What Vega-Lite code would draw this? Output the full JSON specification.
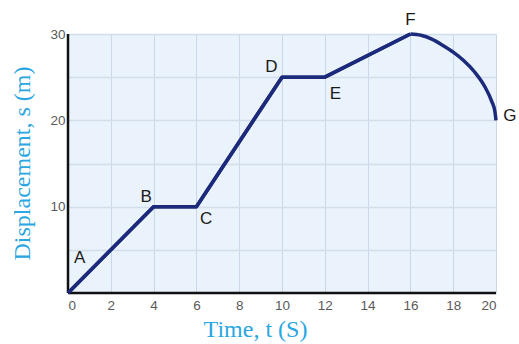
{
  "$schema": "https://vega.github.io/schema/vega-lite/v6.json",
  "width": 428,
  "height": 259,
  "autosize": "none",
  "padding": {"left": 68, "top": 34, "right": 23, "bottom": 51},
  "background": "white",
  "config": {
    "view": {"fill": "#eaf2fb", "stroke": null},
    "axis": {"domain": false}
  },
  "datasets": {
    "path": [
      {"t": 0, "s": 0},
      {"t": 4, "s": 10},
      {"t": 6, "s": 10},
      {"t": 10, "s": 25},
      {"t": 12, "s": 25},
      {"t": 16, "s": 30}
    ],
    "curve": [
      {"t": 16, "s": 30},
      {"t": 16.5, "s": 29.85},
      {"t": 17, "s": 29.4},
      {"t": 17.5, "s": 28.7},
      {"t": 18, "s": 27.9},
      {"t": 18.5, "s": 26.9},
      {"t": 19, "s": 25.6},
      {"t": 19.5, "s": 23.8},
      {"t": 19.8, "s": 22.2},
      {"t": 19.95, "s": 21},
      {"t": 20, "s": 20}
    ],
    "labels": [
      {"t": 0.55, "s": 4, "name": "A"},
      {"t": 3.65, "s": 11.1, "name": "B"},
      {"t": 6.45, "s": 8.6, "name": "C"},
      {"t": 9.5, "s": 26.2, "name": "D"},
      {"t": 12.5, "s": 23.1, "name": "E"},
      {"t": 16, "s": 31.6, "name": "F"},
      {"t": 20.65, "s": 20.5, "name": "G"}
    ]
  },
  "layer": [
    {
      "data": {"name": "path"},
      "mark": {"type": "line", "color": "#1c2a7c", "strokeWidth": 3.5, "strokeJoin": "round", "clip": false},
      "encoding": {
        "x": {
          "field": "t", "type": "quantitative",
          "scale": {"domain": [0, 20], "nice": false},
          "axis": {
            "values": [0, 2, 4, 6, 8, 10, 12, 14, 16, 18, 20],
            "title": "Time, t (S)",
            "titleFont": "Liberation Serif",
            "titleFontSize": 24,
            "titleFontWeight": "normal",
            "titleColor": "#2aa6e0",
            "titleX": 187,
            "titleY": 36,
            "titleAnchor": null,
            "titleAlign": "center",
            "titleBaseline": "middle",
            "labelFont": "Liberation Sans",
            "labelFontSize": 13.5,
            "labelColor": "#5a5a5a",
            "labelPadding": 5,
            "ticks": false,
            "grid": true,
            "gridColor": "#c9d7e8",
            "gridWidth": 1
          }
        },
        "y": {
          "field": "s", "type": "quantitative",
          "scale": {"domain": [0, 30], "nice": false},
          "axis": {
            "values": [0, 5, 10, 15, 20, 25, 30],
            "labelExpr": "datum.value % 10 == 0 && datum.value > 0 ? datum.label : ''",
            "title": "Displacement, s (m)",
            "titleFont": "Liberation Serif",
            "titleFontSize": 24,
            "titleFontWeight": "normal",
            "titleColor": "#2aa6e0",
            "titleX": -46,
            "titleY": 129,
            "titleAnchor": null,
            "titleAlign": "center",
            "titleBaseline": "middle",
            "labelFont": "Liberation Sans",
            "labelFontSize": 13.5,
            "labelColor": "#5a5a5a",
            "labelPadding": 3,
            "ticks": false,
            "grid": true,
            "gridColor": "#d3deeb",
            "gridWidth": 1.5
          }
        }
      }
    },
    {
      "data": {"values": [{"t": 0, "s": 0}, {"t": 0, "s": 30}]},
      "mark": {"type": "rule", "color": "#111111", "strokeWidth": 2.5},
      "encoding": {
        "x": {"field": "t", "type": "quantitative", "aggregate": "min"},
        "y": {"field": "s", "type": "quantitative", "aggregate": "min"},
        "y2": {"field": "s", "aggregate": "max"}
      }
    },
    {
      "data": {"values": [{"t": 0, "s": 0}, {"t": 20, "s": 0}]},
      "mark": {"type": "rule", "color": "#111111", "strokeWidth": 2.5},
      "encoding": {
        "y": {"field": "s", "type": "quantitative", "aggregate": "min"},
        "x": {"field": "t", "type": "quantitative", "aggregate": "min"},
        "x2": {"field": "t", "aggregate": "max"}
      }
    },
    {
      "data": {"name": "path"},
      "mark": {"type": "line", "color": "#1c2a7c", "strokeWidth": 3.5, "strokeJoin": "round", "clip": false},
      "encoding": {
        "x": {"field": "t", "type": "quantitative"},
        "y": {"field": "s", "type": "quantitative"}
      }
    },
    {
      "data": {"name": "curve"},
      "mark": {"type": "line", "color": "#1c2a7c", "strokeWidth": 3.5, "interpolate": "monotone", "clip": false},
      "encoding": {
        "x": {"field": "t", "type": "quantitative"},
        "y": {"field": "s", "type": "quantitative"}
      }
    },
    {
      "data": {"name": "labels"},
      "mark": {"type": "text", "font": "Liberation Sans", "fontSize": 17, "color": "#1a1a1a", "clip": false},
      "encoding": {
        "x": {"field": "t", "type": "quantitative"},
        "y": {"field": "s", "type": "quantitative"},
        "text": {"field": "name"}
      }
    }
  ]
}
